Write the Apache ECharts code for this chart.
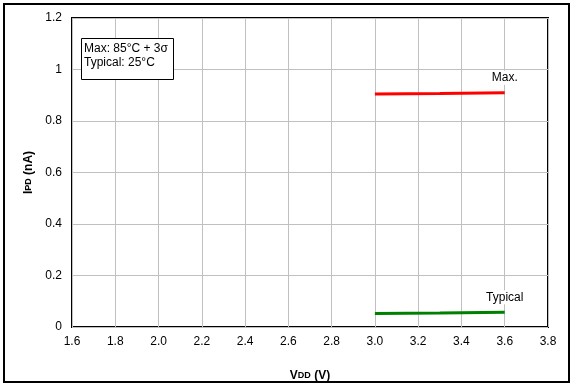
<!DOCTYPE html>
<html><head><meta charset="utf-8">
<script src="https://cdn.jsdelivr.net/npm/echarts@6/dist/echarts.min.js"></script>
<style>html,body{margin:0;padding:0;background:#fff}#c{width:573px;height:385px}</style>
</head><body><div id="c"></div>
<script>
const vdd = [3.0, 3.3, 3.6];
const maxVals = [0.905, 0.907, 0.910];
const typVals = [0.052, 0.054, 0.057];
const legendLines = ['Max: 85°C + 3σ', 'Typical: 25°C'];

const chart = echarts.init(document.getElementById('c'));
const F = 'Liberation Sans, Arial, sans-serif';
function mk(vals, name) {
  return vdd.map((x, i) => {
    const d = { value: [x, vals[i]] };
    if (i === vdd.length - 1) {
      d.label = { show: true, formatter: name, position: 'top', offset: [0, -3],
        fontFamily: F, fontSize: 12, color: '#000', backgroundColor: '#fff', padding: [1, 3] };
    }
    return d;
  });
}
chart.setOption({
  animation: false,
  grid: { left: 72, right: 25, top: 18, bottom: 58, outerBoundsMode: 'none', show: true, borderColor: '#000', borderWidth: 2, backgroundColor: 'transparent' },
  xAxis: {
    type: 'value', min: 1.6, max: 3.8, interval: 0.2,
    axisLine: { show: false }, axisTick: { show: false },
    axisLabel: { formatter: v => v.toFixed(1), fontFamily: F, fontSize: 12, color: '#000', margin: 9 },
    splitLine: { show: true, lineStyle: { color: '#c0c0c0', width: 1 } },
    name: '{b|V}{s|DD}{b| (V)}', nameLocation: 'middle', nameGap: 43,
    nameTextStyle: { rich: { b: { fontFamily: F, fontSize: 12, fontWeight: 'bold', color: '#000' }, s: { fontFamily: F, fontSize: 9, fontWeight: 'bold', color: '#000' } } }
  },
  yAxis: {
    type: 'value', min: 0, max: 1.2, interval: 0.2,
    axisLine: { show: false }, axisTick: { show: false },
    axisLabel: { fontFamily: F, fontSize: 12, color: '#000', margin: 10 },
    splitLine: { show: true, lineStyle: { color: '#c0c0c0', width: 1 } },
    name: '{b|I}{s|PD}{b| (nA)}', nameLocation: 'middle', nameGap: 35,
    nameTextStyle: { rich: { b: { fontFamily: F, fontSize: 12, fontWeight: 'bold', color: '#000' }, s: { fontFamily: F, fontSize: 9, fontWeight: 'bold', color: '#000' } } }
  },
  series: [
    { type: 'line', name: 'Max.', data: mk(maxVals, 'Max.'), symbol: 'circle', symbolSize: 0.01, showSymbol: true,
      itemStyle: { color: 'rgba(0,0,0,0)' },
      lineStyle: { color: '#ff0000', width: 3 } },
    { type: 'line', name: 'Typical', data: mk(typVals, 'Typical'), symbol: 'circle', symbolSize: 0.01, showSymbol: true,
      itemStyle: { color: 'rgba(0,0,0,0)' },
      lineStyle: { color: '#008000', width: 3 } }
  ],
  graphic: [
    { type: 'rect', shape: { x: 4, y: 4, width: 565, height: 378 }, style: { fill: 'none', stroke: '#000', lineWidth: 2 }, silent: true },
    { type: 'rect', shape: { x: 81.5, y: 38.5, width: 92, height: 41 }, style: { fill: '#fff', stroke: '#000', lineWidth: 1 }, z: 100 },
    { type: 'text', left: 84, top: 42, z: 101, style: { text: legendLines.join('\n'), fontFamily: F, fontSize: 12, fill: '#000', lineHeight: 14 } }
  ]
});
</script></body></html>
